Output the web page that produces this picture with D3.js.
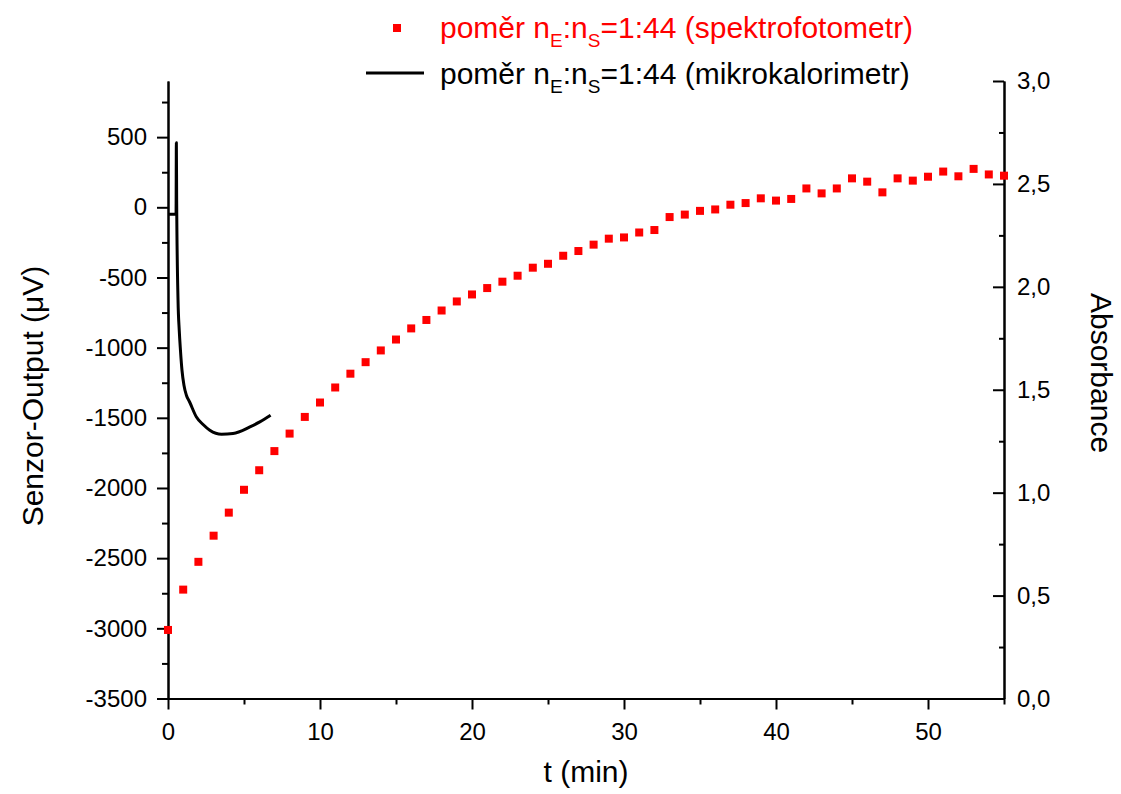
<!DOCTYPE html>
<html>
<head>
<meta charset="utf-8">
<script src="https://cdn.jsdelivr.net/npm/d3@7"></script>
<style>
  html, body { margin: 0; padding: 0; background: #fff; }
  svg { display: block; font-family: "Liberation Sans", Arial, sans-serif; }
</style>
</head>
<body>
<svg id="chart" width="1121" height="794"></svg>
<script>
// Spectrophotometer absorbance, sampled once per minute
const specTime = d3.range(0, 56);
const specAbsorbance = [
  0.333, 0.529, 0.664, 0.791, 0.903, 1.014, 1.109, 1.202, 1.287, 1.368,
  1.438, 1.511, 1.578, 1.634, 1.691, 1.744, 1.798, 1.839, 1.885, 1.929,
  1.963, 1.994, 2.025, 2.054, 2.093, 2.112, 2.151, 2.174, 2.205, 2.234,
  2.240, 2.264, 2.276, 2.339, 2.351, 2.369, 2.376, 2.399, 2.407, 2.430,
  2.419, 2.427, 2.478, 2.454, 2.478, 2.527, 2.511, 2.459, 2.527, 2.516,
  2.535, 2.560, 2.537, 2.573, 2.546, 2.540
];

// Microcalorimeter sensor output (µV)
const kalTime = [0, 0.5, 0.53, 0.55, 0.57, 0.66, 0.74, 0.82, 0.92, 1.05,
  1.21, 1.43, 1.87, 2.29, 2.75, 3.52, 4.28, 5.39, 6.04, 6.75];
const kalOutput = [-50, -50, -50, 460, 49, -663, -877, -1019, -1161, -1268,
  -1339, -1389, -1494, -1546, -1588, -1617, -1612, -1565, -1529, -1482];

// Axis ticks
const xMajor = [0, 10, 20, 30, 40, 50];
const xMinor = [5, 15, 25, 35, 45, 55];
const yLeftMajor = [-3500, -3000, -2500, -2000, -1500, -1000, -500, 0, 500];
const yLeftMinor = [-3250, -2750, -2250, -1750, -1250, -750, -250, 250, 750];
const yRightMajor = [0, 0.5, 1.0, 1.5, 2.0, 2.5, 3.0];
const yRightMinor = [0.25, 0.75, 1.25, 1.75, 2.25, 2.75];

const legendLabels = [
  { pre: "poměr n", sub1: "E", mid: ":n", sub2: "S", post: "=1:44 (spektrofotometr)" },
  { pre: "poměr n", sub1: "E", mid: ":n", sub2: "S", post: "=1:44 (mikrokalorimetr)" }
];

const svg = d3.select("#chart");
const plot = { left: 168, right: 1004, top: 81, bottom: 698.5 };

const x = d3.scaleLinear().domain([0, 55]).range([plot.left, plot.right]);
const yL = d3.scaleLinear().domain([-3500, 900]).range([plot.bottom, plot.top]);
const yR = d3.scaleLinear().domain([0, 3]).range([plot.bottom, plot.top]);

const tickFont = 24;
const titleFont = 30;

function styleAxis(g) {
  g.select(".domain").attr("stroke", "#000").attr("stroke-width", 2);
  g.selectAll(".tick line").attr("stroke", "#000").attr("stroke-width", 2);
  g.selectAll(".tick text").attr("fill", "#000").attr("font-size", tickFont)
    .attr("font-family", "Liberation Sans, Arial, sans-serif");
}

// Bottom axis
svg.append("g").attr("transform", `translate(0,${plot.bottom})`)
  .call(d3.axisBottom(x).tickValues(xMinor).tickSize(6).tickSizeOuter(0).tickFormat(""))
  .call(styleAxis);
svg.append("g").attr("transform", `translate(0,${plot.bottom})`)
  .call(d3.axisBottom(x).tickValues(xMajor).tickSize(11).tickSizeOuter(0).tickPadding(13)
    .tickFormat(d => String(d)))
  .call(styleAxis);

// Left axis (sensor output)
svg.append("g").attr("transform", `translate(${plot.left},0)`)
  .call(d3.axisLeft(yL).tickValues(yLeftMinor).tickSize(6).tickSizeOuter(0).tickFormat(""))
  .call(styleAxis);
svg.append("g").attr("transform", `translate(${plot.left},0)`)
  .call(d3.axisLeft(yL).tickValues(yLeftMajor).tickSize(11).tickSizeOuter(0).tickPadding(10)
    .tickFormat(d => String(d)))
  .call(styleAxis);

// Right axis (absorbance), ticks pointing into the plot
const commaFmt = d => d3.format(".1f")(d).replace(".", ",");
svg.append("g").attr("transform", `translate(${plot.right},0)`)
  .call(d3.axisRight(yR).tickValues(yRightMinor).tickSize(-5).tickSizeOuter(0).tickFormat(""))
  .call(styleAxis);
svg.append("g").attr("transform", `translate(${plot.right},0)`)
  .call(d3.axisRight(yR).tickValues(yRightMajor).tickSize(-11).tickSizeOuter(0).tickPadding(13)
    .tickFormat(commaFmt))
  .call(styleAxis);

// Axis titles
svg.append("text")
  .attr("x", (plot.left + plot.right) / 2).attr("y", 782)
  .attr("text-anchor", "middle").attr("font-size", titleFont)
  .text("t (min)");

svg.append("text")
  .attr("transform", `translate(43,396) rotate(-90)`)
  .attr("text-anchor", "middle").attr("font-size", titleFont)
  .text("Senzor-Output (μV)");

svg.append("text")
  .attr("transform", `translate(1091,373) rotate(90)`)
  .attr("text-anchor", "middle").attr("font-size", titleFont)
  .text("Absorbance");

// Microcalorimeter trace
const kalData = kalTime.map((t, i) => ({ t, v: kalOutput[i] }));
svg.append("path")
  .datum(kalData)
  .attr("fill", "none").attr("stroke", "#000").attr("stroke-width", 3)
  .attr("stroke-linejoin", "round")
  .attr("d", d3.line().x(d => x(d.t)).y(d => yL(d.v)).curve(d3.curveMonotoneX));

// Spectrophotometer points
const sq = 8;
const specData = specTime.map((t, i) => ({ t, a: specAbsorbance[i] }));
svg.append("g").selectAll("rect")
  .data(specData).join("rect")
  .attr("x", d => x(d.t) - sq / 2).attr("y", d => yR(d.a) - sq / 2)
  .attr("width", sq).attr("height", sq)
  .attr("fill", "#ff0000");

// Legend
const legend = svg.append("g");
function legendText(row, y, color) {
  const t = legend.append("text").attr("x", 440).attr("y", y)
    .attr("font-size", titleFont).attr("fill", color);
  t.append("tspan").text(row.pre);
  t.append("tspan").attr("font-size", 19).attr("dy", 9).text(row.sub1);
  t.append("tspan").attr("dy", -9).text(row.mid);
  t.append("tspan").attr("font-size", 19).attr("dy", 9).text(row.sub2);
  t.append("tspan").attr("dy", -9).text(row.post);
}
legend.append("rect").attr("x", 397 - 4).attr("y", 28 - 4).attr("width", 8).attr("height", 8)
  .attr("fill", "#ff0000");
legendText(legendLabels[0], 38, "#ff0000");
legend.append("line").attr("x1", 366).attr("x2", 424).attr("y1", 73).attr("y2", 73)
  .attr("stroke", "#000").attr("stroke-width", 3);
legendText(legendLabels[1], 84, "#000");
</script>
</body>
</html>
